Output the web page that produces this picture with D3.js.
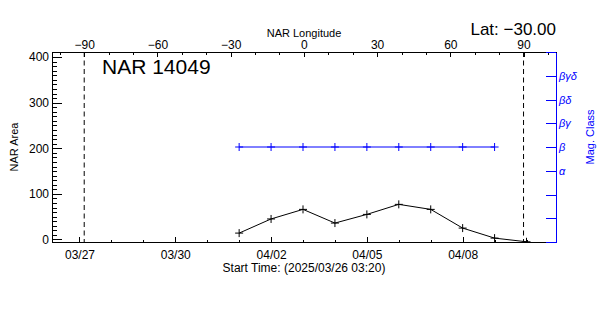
<!DOCTYPE html>
<html>
<head>
<meta charset="utf-8">
<script src="https://cdn.jsdelivr.net/npm/d3@7"></script>
<style>
  body { margin: 0; background: #fff; }
  svg text { font-family: "Liberation Sans", Arial, sans-serif; }
</style>
</head>
<body>
<div id="nar_chart"></div>
<script>
// data
const areaDates  = ["2025-04-01","2025-04-02","2025-04-03","2025-04-04","2025-04-05",
                    "2025-04-06","2025-04-07","2025-04-08","2025-04-09","2025-04-10"];
const areaValues = [14, 45, 66, 36, 55, 77, 66, 25, 3, -5];
const magDates   = areaDates.slice(0, 9);
const magClasses = ["β","β","β","β","β","β","β","β","β"];
const magLabels  = ["", "", "", "α", "β", "βγ", "βδ", "βγδ", ""];
const dateTicks  = ["2025-03-27","2025-03-30","2025-04-02","2025-04-05","2025-04-08"];
const lonTicks   = [-90, -60, -30, 0, 30, 60, 90];
const areaTicks  = [0, 100, 200, 300, 400];
const limbLons   = [-90, 90];

const startTime = new Date("2025-03-26T03:20:00Z");
const endTime   = new Date("2025-04-10T22:10:00Z");
const parse = s => new Date(s + "T00:00:00Z");

// set the dimensions and margins of the graph
const margin = {top: 52, right: 44, bottom: 73, left: 52},
      width = 600 - margin.left - margin.right,
      height = 315 - margin.top - margin.bottom;
const blue = "#0000ff";

const svg = d3.select("#nar_chart")
  .append("svg")
    .attr("width", 600)
    .attr("height", 315)
  .append("g")
    .attr("transform", `translate(${margin.left},${margin.top})`);

// scales
const x = d3.scaleUtc().domain([startTime, endTime]).range([0, width]);
const lon = d3.scaleLinear().domain([-103.2, 103.3]).range([0, width]);
const y = d3.scaleLinear().domain([-5.5, 411]).range([height, 0]);
const mag = d3.scaleLinear().domain([0, 8]).range([height, 0]);

function styleAxis(g, color) {
  g.selectAll("path, line").attr("stroke", color).attr("shape-rendering", "crispEdges");
  g.selectAll("text").attr("fill", color).attr("font-size", 12);
}

// left axis (NAR Area), ticks pointing inward
svg.append("g")
  .call(d3.axisLeft(y).tickValues(d3.range(0, 411, 10)).tickSize(-5).tickSizeOuter(0).tickFormat(""))
  .call(g => styleAxis(g, "#000"));
svg.append("g")
  .call(d3.axisLeft(y).tickValues(areaTicks).tickSize(-10).tickSizeOuter(0).tickPadding(3))
  .call(g => styleAxis(g, "#000"))
  .call(g => g.select(".domain").remove());

// bottom axis (dates)
const dayTicks = d3.utcDay.range(d3.utcDay.ceil(startTime), endTime);
svg.append("g")
  .attr("transform", `translate(0,${height})`)
  .call(d3.axisBottom(x).tickValues(dayTicks).tickSize(-2.5).tickSizeOuter(0).tickFormat(""))
  .call(g => styleAxis(g, "#000"));
svg.append("g")
  .attr("transform", `translate(0,${height})`)
  .call(d3.axisBottom(x).tickValues(dateTicks.map(parse)).tickSize(-5).tickPadding(8)
    .tickFormat(d3.utcFormat("%m/%d")))
  .call(g => styleAxis(g, "#000"))
  .call(g => g.select(".domain").remove());

// top axis (longitude)
svg.append("g")
  .call(d3.axisTop(lon).tickValues(d3.range(-100, 101, 10)).tickSize(-2.5).tickSizeOuter(0).tickFormat(""))
  .call(g => styleAxis(g, "#000"));
svg.append("g")
  .call(d3.axisTop(lon).tickValues(lonTicks).tickSize(-5).tickPadding(3)
    .tickFormat(d => d < 0 ? "\u2212" + Math.abs(d) : d))
  .call(g => styleAxis(g, "#000"))
  .call(g => g.select(".domain").remove());

// right axis (magnetic class), blue
svg.append("g")
  .attr("transform", `translate(${width},0)`)
  .call(d3.axisRight(mag).tickValues(d3.range(0, 9)).tickSize(-10).tickSizeOuter(0).tickPadding(3)
    .tickFormat(i => magLabels[i]))
  .call(g => styleAxis(g, blue))
  .call(g => g.selectAll("text").attr("font-style", "italic").attr("font-size", 11));

// clip
svg.append("defs").append("clipPath").attr("id", "clip")
  .append("rect").attr("width", width).attr("height", height);
const plot = svg.append("g").attr("clip-path", "url(#clip)");

// limb lines at +-90 longitude
plot.selectAll(".limb").data(limbLons).join("line")
  .attr("x1", d => lon(d)).attr("x2", d => lon(d))
  .attr("y1", 0).attr("y2", height)
  .attr("stroke", "#000").attr("stroke-dasharray", "5,3.5");

const plus = "M-4,0H4M0,-4V4";

// magnetic class line
const magData = magDates.map((d, i) => ({t: parse(d), v: magLabels.indexOf(magClasses[i])}));
plot.append("path").datum(magData)
  .attr("fill", "none").attr("stroke", blue)
  .attr("d", d3.line().x(d => x(d.t)).y(d => mag(d.v)));
plot.selectAll(".magpt").data(magData).join("path")
  .attr("transform", d => `translate(${x(d.t)},${mag(d.v)})`)
  .attr("d", plus).attr("stroke", blue).attr("fill", "none");

// area line
const areaData = areaDates.map((d, i) => ({t: parse(d), v: areaValues[i]}));
plot.append("path").datum(areaData)
  .attr("fill", "none").attr("stroke", "#000")
  .attr("d", d3.line().x(d => x(d.t)).y(d => y(d.v)));
plot.selectAll(".areapt").data(areaData).join("path")
  .attr("transform", d => `translate(${x(d.t)},${y(d.v)})`)
  .attr("d", plus).attr("stroke", "#000").attr("fill", "none");

// texts
svg.append("text").attr("x", 50).attr("y", 22).attr("font-size", 21).text("NAR 14049");
svg.append("text").attr("x", width).attr("y", -17).attr("text-anchor", "end")
  .attr("font-size", 17).text("Lat: \u221230.00");
svg.append("text").attr("x", width / 2).attr("y", -15).attr("text-anchor", "middle")
  .attr("font-size", 11).text("NAR Longitude");
svg.append("text").attr("x", width / 2).attr("y", height + 30).attr("text-anchor", "middle")
  .attr("font-size", 12).text("Start Time: (2025/03/26 03:20)");
svg.append("text").attr("transform", `translate(-34,${height / 2}) rotate(-90)`)
  .attr("text-anchor", "middle").attr("font-size", 11).text("NAR Area");
svg.append("text").attr("transform", `translate(${width + 38},${height / 2 - 10}) rotate(-90)`)
  .attr("text-anchor", "middle").attr("font-size", 11).attr("fill", blue).text("Mag. Class");
</script>
</body>
</html>
